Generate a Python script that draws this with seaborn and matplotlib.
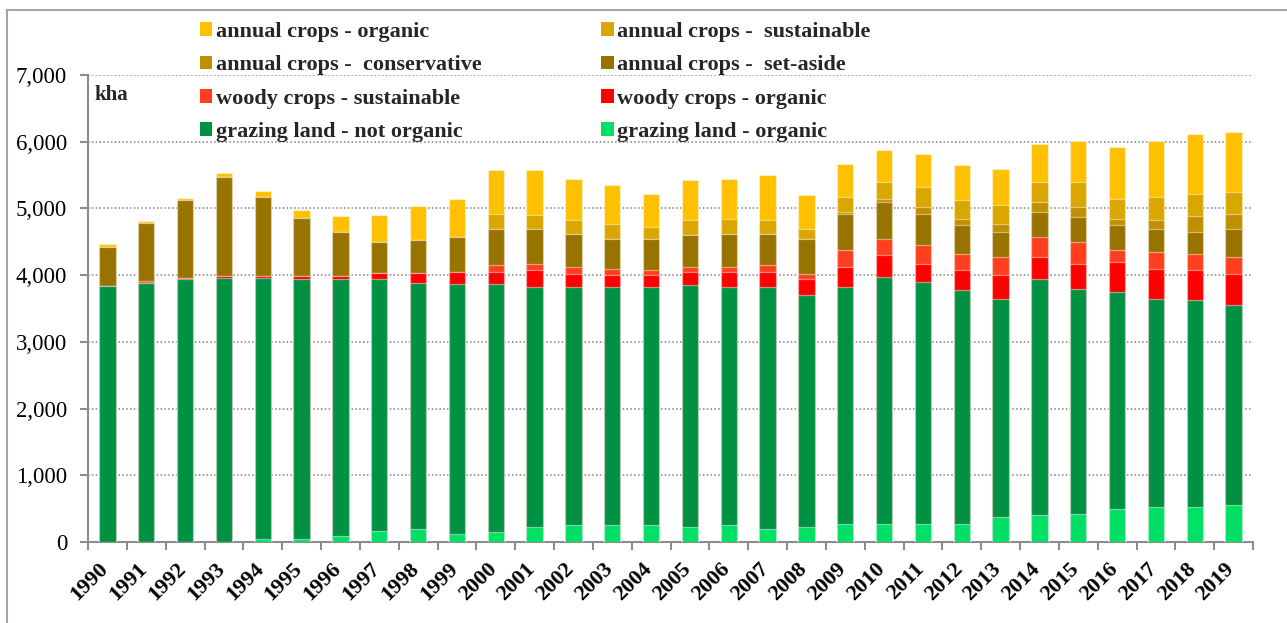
import numpy as np
import pandas as pd
import matplotlib
matplotlib.use("Agg")
import matplotlib.pyplot as plt
import matplotlib.transforms as mtransforms
from matplotlib.patches import Rectangle
from matplotlib.ticker import FuncFormatter, FixedLocator
import seaborn as sns

# ---- data (kha) ----
years = [str(y) for y in range(1990, 2020)]

grazing_organic = [5, 5, 5, 5, 40, 40, 85, 160, 190, 125, 150, 225, 250, 250, 250,
                   225, 250, 200, 225, 275, 275, 275, 275, 375, 400, 425, 500, 525, 525, 550]
grazing_not_organic = [3825, 3875, 3930, 3955, 3920, 3895, 3850, 3775, 3690, 3745,
                       3720, 3590, 3565, 3565, 3565, 3620, 3565, 3615, 3470, 3545,
                       3695, 3620, 3495, 3270, 3545, 3370, 3245, 3120, 3100, 2995]
woody_organic = [0, 0, 25, 20, 20, 45, 45, 90, 145, 175, 170, 255, 195, 180, 180,
                 195, 225, 225, 245, 295, 325, 270, 300, 350, 320, 370, 445, 445, 445, 475]
woody_sustainable = [5, 25, 0, 0, 0, 0, 0, 0, 0, 0, 110, 95, 110, 100, 75,
                     80, 80, 105, 75, 260, 250, 280, 245, 275, 305, 330, 185, 255, 245, 250]
annual_set_aside = [590, 870, 1165, 1495, 1195, 870, 670, 475, 500, 520, 540, 525, 495, 450, 475,
                    475, 495, 470, 530, 540, 545, 470, 430, 375, 370, 370, 370, 350, 325, 425]
annual_conservative = [0, 0, 0, 0, 0, 0, 0, 0, 0, 0, 0, 0, 0, 0, 0,
                       0, 0, 0, 0, 30, 50, 100, 90, 120, 150, 150, 90, 125, 250, 220]
annual_sustainable = [0, 0, 0, 0, 0, 0, 0, 0, 0, 0, 230, 205, 205, 225, 170,
                      225, 230, 205, 145, 220, 250, 300, 285, 280, 300, 375, 305, 345, 325, 325]
annual_organic = [35, 30, 30, 50, 80, 125, 235, 400, 505, 580, 650, 675, 625, 575, 505,
                  600, 600, 675, 505, 505, 480, 505, 525, 550, 580, 625, 780, 850, 905, 905]

# stacking order, bottom to top
layers = [
    ("grazing land - organic", grazing_organic, "#00E064"),
    ("grazing land - not organic", grazing_not_organic, "#009242"),
    ("woody crops - organic", woody_organic, "#FF0000"),
    ("woody crops - sustainable", woody_sustainable, "#FF3F1F"),
    ("annual crops -  set-aside", annual_set_aside, "#997300"),
    ("annual crops -  conservative", annual_conservative, "#BF8F00"),
    ("annual crops -  sustainable", annual_sustainable, "#D9A700"),
    ("annual crops - organic", annual_organic, "#FFC000"),
]

W, H = 1287, 623
fig = plt.figure(figsize=(W / 100, H / 100), dpi=100)
fig.patch.set_facecolor("white")

# outer frame
fig.add_artist(Rectangle((7 / W, -0.05), 1.2, 1 - 10 / H + 0.05,
                         transform=fig.transFigure, fill=False,
                         edgecolor="#A6A6A6", linewidth=1.5))

ax = fig.add_axes([88 / W, 1 - 542 / H, (1253 - 88) / W, (542 - 75) / H])
sns.set_style("white")
serif = ["Liberation Serif", "DejaVu Serif"]

df = pd.DataFrame({"year": years})
cum = np.zeros(len(years))
cums = []
for name, vals, col in layers:
    cum = cum + np.array(vals, dtype=float)
    cums.append(cum.copy())

# draw cumulative totals from the top layer down so each band shows its own share
handles = {}
for (name, vals, col), c in reversed(list(zip(layers, cums))):
    df["v"] = c
    sns.barplot(data=df, x="year", y="v", order=years, color=col, saturation=1,
                width=0.42, errorbar=None, ax=ax,
                edgecolor=(1, 1, 1, 0.45), linewidth=0.9, zorder=3)
    handles[name] = Rectangle((0, 0), 1, 1, facecolor=col, edgecolor="none")

ax.set_xlim(-0.5, len(years) - 0.5)
ax.set_ylim(0, 7000)
ax.set_yticks(np.arange(0, 7001, 1000))
ax.yaxis.set_major_formatter(FuncFormatter(lambda v, p: f"{int(v):,}"))
ax.set_xlabel("")
ax.set_ylabel("")

for y in range(1000, 7001, 1000):
    ax.axhline(y, color="#808080", linewidth=1.1, linestyle=(0, (1, 1.5)), zorder=1)

for s in ["top", "right"]:
    ax.spines[s].set_visible(False)
for s in ["left", "bottom"]:
    ax.spines[s].set_color("#8C8C8C")
    ax.spines[s].set_linewidth(1.5)

ax.tick_params(axis="y", direction="out", length=6, width=1.5, color="#8C8C8C",
               pad=9, labelsize=16.5)
for t in ax.get_yticklabels():
    t.set_fontfamily(serif)

ax.xaxis.set_minor_locator(FixedLocator(np.arange(-0.5, len(years), 1.0)))
ax.tick_params(axis="x", which="minor", direction="out", length=6, width=1.5, color="#8C8C8C")
ax.tick_params(axis="x", which="major", length=0, pad=12)
ax.set_xticks(range(len(years)))
ax.set_xticklabels(years, rotation=45, ha="right", va="top",
                   fontsize=16, fontweight="bold", fontfamily=serif)
shift = mtransforms.ScaledTranslation(0.05, 0, fig.dpi_scale_trans)
for t in ax.get_xticklabels():
    t.set_transform(t.get_transform() + shift)

fig.text(94 / W, 1 - 95 / H, "kha", fontsize=15, fontweight="bold",
         fontfamily=serif, va="center", ha="left")

# legend, filled column-wise in two columns
legend_order = [
    "annual crops - organic", "annual crops -  conservative",
    "woody crops - sustainable", "grazing land - not organic",
    "annual crops -  sustainable", "annual crops -  set-aside",
    "woody crops - organic", "grazing land - organic",
]
leg = fig.legend([handles[n] for n in legend_order], legend_order,
                 loc="upper left", bbox_to_anchor=(200 / W, 1 - 22 / H),
                 ncol=2, frameon=False, borderpad=0, borderaxespad=0,
                 handlelength=0.55, handleheight=0.55, handletextpad=0.15,
                 labelspacing=0.6, columnspacing=5.4,
                 prop={"family": serif, "weight": "bold", "size": 16})

fig.savefig("out.png", dpi=100, facecolor="white")
